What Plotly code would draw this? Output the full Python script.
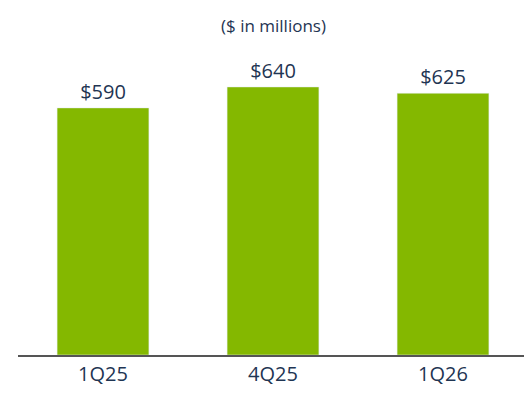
import plotly.graph_objects as go

quarters = ["1Q25", "4Q25", "1Q26"]
values = [590, 640, 625]
labels = ["$590", "$640", "$625"]

navy = "#1f3553"
green = "#84b800"

fig = go.Figure(go.Bar(
    x=quarters, y=values, text=labels, textposition="outside",
    marker=dict(color=green), cliponaxis=False,
    textfont=dict(size=20, color=navy, family="Source Sans Pro, Open Sans, sans-serif"),
))

fig.update_layout(
    width=532, height=401,
    margin=dict(l=10, r=12, t=40, b=54, autoexpand=False),
    plot_bgcolor="white", paper_bgcolor="white",
    bargap=0.46, showlegend=False,
    font=dict(family="Open Sans, sans-serif", color=navy),
    annotations=[dict(text="($ in millions)", x=0.5, y=1.072, xref="paper", yref="paper",
                      yanchor="middle", showarrow=False, font=dict(size=17, color=navy))],
)
fig.update_xaxes(showline=True, linecolor="#555555", linewidth=1.5, ticks="",
                 tickfont=dict(size=20, color=navy), showgrid=False, automargin=False)
fig.update_yaxes(visible=False, range=[0, 733], showgrid=False, automargin=False)

fig.write_html("out.html")
